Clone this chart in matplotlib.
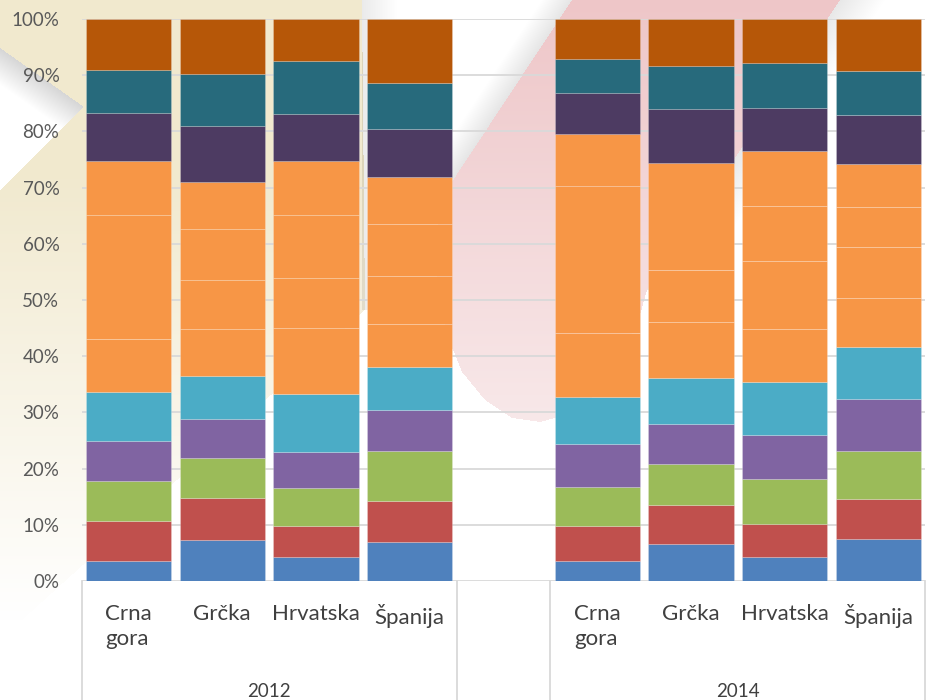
import numpy as np
import matplotlib
matplotlib.use("Agg")
import matplotlib.pyplot as plt
from matplotlib.path import Path

plt.rcParams['font.family'] = ['Lato', 'DejaVu Sans']

# categories: 4 countries per year, empty slot between the two years
countries = ["Crna\ngora", "Grčka", "Hrvatska", "Španija"]
years = ["2012", "2014"]

# shares (%) per series, order: 2012 CG, Gr, Hr, Šp, 2014 CG, Gr, Hr, Šp
s_blue = [3.5, 7.3, 4.2, 6.9, 3.6, 6.6, 4.2, 7.4]
s_red = [7.2, 7.5, 5.6, 7.4, 6.1, 6.9, 6.0, 7.2]
s_green = [7.1, 7.0, 6.8, 8.8, 7.0, 7.3, 7.9, 8.5]
s_purple = [7.2, 7.1, 6.4, 7.3, 7.6, 7.2, 7.8, 9.2]
s_aqua = [8.7, 7.6, 10.3, 7.6, 8.4, 8.2, 9.5, 9.4]
s_orange1 = [9.3, 8.3, 11.7, 7.8, 11.5, 9.9, 9.4, 8.7]
s_orange2 = [0.0, 8.7, 9.0, 8.4, 0.0, 9.2, 12.1, 9.1]
s_orange3 = [22.1, 9.1, 11.1, 9.3, 26.0, 0.0, 9.9, 7.0]
s_orange4 = [9.6, 8.4, 9.7, 8.3, 9.3, 19.0, 9.7, 7.7]
s_dpurple = [8.5, 10.0, 8.3, 8.7, 7.3, 9.6, 7.6, 8.7]
s_teal = [7.8, 9.3, 9.4, 8.1, 6.1, 7.8, 8.0, 7.8]
s_dorange = [9.0, 9.7, 7.5, 11.4, 7.1, 8.3, 7.9, 9.3]

series = [s_blue, s_red, s_green, s_purple, s_aqua, s_orange1, s_orange2,
          s_orange3, s_orange4, s_dpurple, s_teal, s_dorange]
colors = ["#4F81BD", "#C0504D", "#9BBB59", "#8064A2", "#4BACC6", "#F79646",
          "#F79646", "#F79646", "#F79646", "#4D3B62", "#276A7C", "#B65708"]

W, H = 934, 700

# decorative slide background shapes (pixel coords)
BEIGE_POLY = [(0, 0), (362, 0), (365, 310), (0, 640)]
WEDGE_POLY = [(0, 48), (84, 107), (0, 190)]
PINK_POLY = [(560, -20), (572, 0), (440, 200), (436, 240), (438, 290), (447, 335),
             (462, 372), (485, 400), (512, 418), (540, 422), (570, 414), (600, 392),
             (625, 350), (640, 315), (647, 290), (840, 0), (852, -20)]


def build_background():
    yy, xx = np.mgrid[0:H, 0:W] + 0.5
    pts = np.column_stack([xx.ravel(), yy.ravel()])
    img = np.ones((H, W, 3))

    beige = np.array([241, 233, 206]) / 255.0
    m = Path(BEIGE_POLY).contains_points(pts).reshape(H, W)
    fade = np.clip((620 - yy) / 450.0, 0, 1)
    for c in range(3):
        img[..., c] = np.where(m, 1 - (1 - beige[c]) * fade, img[..., c])

    # shadow right of the beige edge
    d = xx - 362
    sh = np.where((d > 0) & (d < 35) & (yy < 310), 0.08 * (1 - d / 35.0), 0)
    img -= sh[..., None]

    # white wedge with grey shading near its upper edge
    m = Path(WEDGE_POLY).contains_points(pts).reshape(H, W)
    dist = np.abs(59 * xx - 84 * (yy - 48)) / np.hypot(59, 84)
    grey = 0.84 + 0.16 * np.clip(dist / 30.0, 0, 1)
    for c in range(3):
        img[..., c] = np.where(m, grey, img[..., c])

    # shadows along pink band edges
    dl = xx - (572 - 0.66 * yy)
    sh = np.where((dl > -30) & (dl < 0) & (yy < 210), 0.10 * (1 + dl / 30.0), 0)
    dr = xx - (840 - 0.666 * yy)
    sh += np.where((dr > 0) & (dr < 45) & (yy < 290), 0.09 * (1 - dr / 45.0), 0)
    img -= sh[..., None]

    # pink band, fading downwards
    top = np.array([238, 198, 200]) / 255.0
    bot = np.array([248, 232, 233]) / 255.0
    m = Path(PINK_POLY).contains_points(pts).reshape(H, W)
    t = np.clip(yy / 420.0, 0, 1)
    for c in range(3):
        col = top[c] + (bot[c] - top[c]) * t
        img[..., c] = np.where(m, col, img[..., c])
    return np.clip(img, 0, 1)


fig = plt.figure(figsize=(W / 100, H / 100), dpi=100)
bg_ax = fig.add_axes([0, 0, 1, 1], zorder=0)
bg_ax.imshow(build_background(), extent=(0, W, H, 0), aspect="auto", interpolation="bilinear")
bg_ax.set_xlim(0, W)
bg_ax.set_ylim(H, 0)
bg_ax.axis("off")

left_px, right_px, top_px, bottom_px = 81.6, 925.4, 19, 581
ax = fig.add_axes([left_px / W, (H - bottom_px) / H, (right_px - left_px) / W,
                   (bottom_px - top_px) / H], zorder=1, facecolor="none")

xpos = [0, 1, 2, 3, 5, 6, 7, 8]
totals = np.sum(np.array(series), axis=0)
bottom = np.zeros(len(xpos))
for vals, col in zip(series, colors):
    share = np.array(vals) / totals * 100
    ax.bar(xpos, share, bottom=bottom, width=0.907, color=col,
           edgecolor=(1, 1, 1, 0.2), linewidth=0.7, zorder=3)
    bottom += share

ax.set_xlim(-0.5, 8.5)
ax.set_ylim(0, 100)
ax.set_yticks(range(0, 101, 10))
ax.set_yticklabels([f"{v}%" for v in range(0, 101, 10)])
ax.tick_params(axis="y", length=0, pad=16, labelsize=13.5, labelcolor="#595959")
ax.set_xticks([])
ax.yaxis.grid(True, color="#D9D9D9", linewidth=1.3, zorder=1)
ax.set_axisbelow(True)
for sp in ax.spines.values():
    sp.set_visible(False)

# multi-level category axis
tr = ax.get_xaxis_transform()
for xb in [-0.5, 3.5, 4.5, 8.5]:
    ax.plot([xb, xb], [0, -0.3], transform=tr, color="#D9D9D9", linewidth=1.3,
            clip_on=False, zorder=2)

for gi, year in enumerate(years):
    for ci, name in enumerate(countries):
        ax.text(xpos[gi * 4 + ci], -0.041, name, transform=tr, ha="center", va="top",
                multialignment="left", linespacing=1.3, fontsize=16, color="#404040")
    ax.text(xpos[gi * 4] + 1.5, -0.197, year, transform=tr, ha="center", va="center",
            fontsize=13.5, color="#404040")

fig.savefig("out.png", dpi=100)
